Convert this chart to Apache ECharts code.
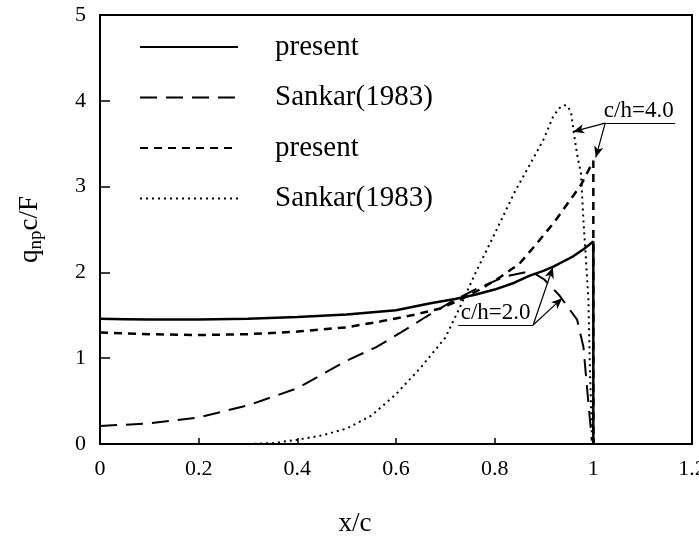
<!DOCTYPE html>
<html>
<head>
<meta charset="utf-8">
<script src="https://cdn.jsdelivr.net/npm/echarts@6/dist/echarts.min.js"></script>
<style>
  html, body { margin: 0; padding: 0; background: #fff; }
  #main { width: 699px; height: 538px; }
</style>
</head>
<body>
<div id="main"></div>
<script>
// present, c/h=2.0 (solid)
const presentH2X = [0, 0.05, 0.1, 0.2, 0.3, 0.4, 0.5, 0.6, 0.67, 0.72, 0.76, 0.8, 0.84, 0.87, 0.9, 0.92, 0.94, 0.96, 0.98, 1.0, 1.0];
const presentH2Y = [1.46, 1.455, 1.45, 1.45, 1.46, 1.48, 1.51, 1.56, 1.64, 1.69, 1.74, 1.80, 1.88, 1.96, 2.02, 2.07, 2.13, 2.19, 2.27, 2.36, 0];

// Sankar(1983), c/h=2.0 (long dash)
const sankarH2X = [0, 0.1, 0.2, 0.3, 0.4, 0.5, 0.56, 0.61, 0.66, 0.71, 0.76, 0.82, 0.86, 0.88, 0.9, 0.93, 0.967, 0.98, 0.985, 0.99, 0.997];
const sankarH2Y = [0.21, 0.24, 0.31, 0.45, 0.65, 0.97, 1.13, 1.30, 1.48, 1.65, 1.80, 1.95, 2.0, 1.99, 1.92, 1.74, 1.45, 1.13, 0.80, 0.48, 0.04];

// present, c/h=4.0 (short dash)
const presentH4X = [0, 0.1, 0.2, 0.3, 0.4, 0.5, 0.57, 0.64, 0.69, 0.73, 0.77, 0.81, 0.85, 0.88, 0.92, 0.95, 0.975, 1.0, 1.0];
const presentH4Y = [1.30, 1.28, 1.27, 1.28, 1.31, 1.36, 1.43, 1.51, 1.58, 1.68, 1.80, 1.94, 2.10, 2.30, 2.58, 2.82, 3.02, 3.30, 0];

// Sankar(1983), c/h=4.0 (dotted)
const sankarH4X = [0.30, 0.35, 0.4, 0.45, 0.5, 0.55, 0.6, 0.65, 0.7, 0.73, 0.76, 0.8, 0.84, 0.885, 0.9, 0.918, 0.93, 0.94, 0.948, 0.955, 0.96, 0.967, 0.975, 0.98, 0.986, 0.99, 0.993, 0.997];
const sankarH4Y = [0.0, 0.01, 0.05, 0.10, 0.18, 0.33, 0.58, 0.89, 1.24, 1.60, 1.98, 2.45, 2.93, 3.40, 3.56, 3.81, 3.91, 3.95, 3.94, 3.86, 3.64, 3.38, 3.15, 2.60, 2.06, 1.68, 0.90, 0.13];

const xTicks = [0, 0.2, 0.4, 0.6, 0.8, 1, 1.2];
const yTicks = [0, 1, 2, 3, 4, 5];

function zip(xs, ys) {
  return xs.map(function (x, i) { return [x, ys[i]]; });
}

const serif = "'Liberation Serif', 'Times New Roman', serif";
const chart = echarts.init(document.getElementById('main'));

// annotation line style
const annoStyle = { color: '#000', width: 1.2, type: 'solid' };
const annoLabel = { show: true, position: 'insideMiddleTop', distance: 1, fontFamily: serif, fontSize: 23, color: '#000' };

const option = {
  animation: false,
  grid: {
    left: 100, right: 7, top: 15, bottom: 94,
    outerBoundsMode: 'none',
    containLabel: false,
    show: true, borderColor: '#000', borderWidth: 2
  },
  legend: {
    orient: 'vertical',
    left: 139,
    top: 32,
    padding: 0,
    itemWidth: 98,
    itemHeight: 14,
    itemGap: 20.5,
    itemStyle: { opacity: 0, borderWidth: 0 },
    formatter: function (name) { return name.trim(); },
    textStyle: {
      fontFamily: serif, fontSize: 29, color: '#000',
      lineHeight: 30, padding: [0, 0, 0, 32]
    },
    data: ['present', 'Sankar(1983)', 'present ', 'Sankar(1983) ']
  },
  xAxis: {
    type: 'value',
    min: 0, max: 1.2, interval: 0.2,
    name: 'x/c',
    nameLocation: 'middle',
    nameGap: 66,
    nameTextStyle: { fontFamily: serif, fontSize: 27, color: '#000', padding: [0, 82, 0, 0] },
    axisLine: { lineStyle: { color: '#000', width: 2 } },
    axisTick: { inside: true, length: 6, lineStyle: { color: '#000', width: 1.5 } },
    axisLabel: {
      fontFamily: serif, fontSize: 22, color: '#000', margin: 14,
      formatter: function (v) {
        const t = xTicks.find(function (k) { return Math.abs(k - v) < 1e-9; });
        return t === undefined ? '' : String(t);
      }
    },
    splitLine: { show: false }
  },
  yAxis: {
    type: 'value',
    min: 0, max: 5, interval: 1,
    name: '{a|q}{b|np}{a|c/F}',
    nameLocation: 'middle',
    nameRotate: 90,
    nameGap: 57,
    nameTextStyle: {
      rich: {
        a: { fontFamily: serif, fontSize: 27, color: '#000', lineHeight: 27 },
        b: { fontFamily: serif, fontSize: 19, color: '#000', lineHeight: 19, padding: [14, 0, 0, 0] }
      }
    },
    axisLine: { lineStyle: { color: '#000', width: 2 } },
    axisTick: { inside: true, length: 10, lineStyle: { color: '#000', width: 1.5 } },
    axisLabel: {
      fontFamily: serif, fontSize: 22, color: '#000', margin: 14,
      formatter: function (v) {
        return yTicks.indexOf(v) >= 0 ? String(v) : '';
      }
    },
    splitLine: { show: false }
  },
  series: [
    {
      name: 'present',
      type: 'line',
      data: zip(presentH2X, presentH2Y),
      showSymbol: false, symbol: 'none',
      lineStyle: { color: '#000', width: 2.5, type: 'solid' },
      itemStyle: { color: '#000' },
      markLine: {
        silent: true,
        symbol: ['none', 'none'],
        lineStyle: annoStyle,
        label: { show: false },
        data: [
          [
            { coord: [0.726, 1.387], label: Object.assign({ formatter: 'c/h=2.0' }, annoLabel) },
            { coord: [0.878, 1.387] }
          ],
          [
            { coord: [0.878, 1.387] },
            { coord: [0.918, 2.06], symbol: 'arrow', symbolSize: [7, 11] }
          ],
          [
            { coord: [0.878, 1.387] },
            { coord: [0.937, 1.70], symbol: 'arrow', symbolSize: [7, 11] }
          ]
        ]
      }
    },
    {
      name: 'Sankar(1983)',
      type: 'line',
      data: zip(sankarH2X, sankarH2Y),
      showSymbol: false, symbol: 'none',
      lineStyle: { color: '#000', width: 2, type: [17, 9] },
      itemStyle: { color: '#000' }
    },
    {
      name: 'present ',
      type: 'line',
      data: zip(presentH4X, presentH4Y),
      showSymbol: false, symbol: 'none',
      lineStyle: { color: '#000', width: 2.5, type: [8, 6] },
      itemStyle: { color: '#000' }
    },
    {
      name: 'Sankar(1983) ',
      type: 'line',
      data: zip(sankarH4X, sankarH4Y),
      showSymbol: false, symbol: 'none',
      lineStyle: { color: '#000', width: 2, type: [2, 4] },
      itemStyle: { color: '#000' },
      markLine: {
        silent: true,
        symbol: ['none', 'none'],
        lineStyle: annoStyle,
        label: { show: false },
        data: [
          [
            { coord: [1.018, 3.74], label: Object.assign({ formatter: 'c/h=4.0' }, annoLabel) },
            { coord: [1.166, 3.74] }
          ],
          [
            { coord: [1.024, 3.74] },
            { coord: [0.959, 3.64], symbol: 'arrow', symbolSize: [7, 11] }
          ],
          [
            { coord: [1.024, 3.74] },
            { coord: [1.005, 3.34], symbol: 'arrow', symbolSize: [7, 11] }
          ]
        ]
      }
    }
  ]
};

chart.setOption(option);
</script>
</body>
</html>
